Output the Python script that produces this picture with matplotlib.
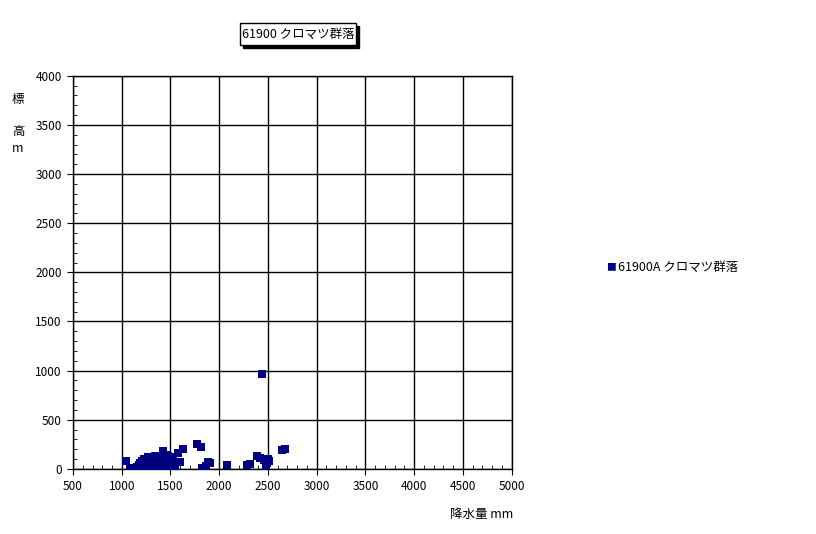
import matplotlib
matplotlib.use("Agg")
import matplotlib.pyplot as plt
from matplotlib.patches import Rectangle
from matplotlib.ticker import MultipleLocator

plt.rcParams['font.family'] = ['Noto Sans CJK JP', 'DejaVu Sans']

# 降水量 (mm) と 標高 (m)
rain = [1040, 1085, 1100, 1160, 1180, 1190, 1200, 1210, 1220, 1230, 1240, 1250,
        1260, 1270, 1280, 1290, 1300, 1310, 1320, 1330, 1340, 1350, 1360, 1370,
        1380, 1390, 1400, 1410, 1420, 1426, 1430, 1440, 1450, 1460, 1470, 1477,
        1490, 1500, 1511, 1520, 1530, 1550, 1580, 1600, 1631,
        1768, 1809, 1820, 1836, 1860, 1887, 1910, 2075,
        2290, 2320, 2386, 2420, 2437, 2460, 2480, 2490, 2500, 2510, 2642, 2673]
elev = [85, 10, 5, 20, 40, 60, 10, 80, 30, 100, 50, 20,
        90, 125, 60, 10, 40, 110, 70, 20, 135, 60, 100, 30,
        80, 10, 50, 120, 70, 186, 20, 90, 140, 40, 100, 132,
        60, 30, 109, 80, 120, 20, 163, 70, 203,
        254, 227, 10, 7, 30, 74, 60, 44,
        40, 50, 132, 110, 967, 90, 20, 60, 100, 80, 193, 204]

series_name = "61900A クロマツ群落"
title = "61900 クロマツ群落"

W, H = 816, 534
fig = plt.figure(figsize=(8.16, 5.34), dpi=100)
ax = fig.add_axes([0.0895, 0.122, 0.5375, 0.736])

ax.scatter(rain, elev, marker='s', s=30, color='#000080', linewidths=0, zorder=3)

ax.set_xlim(500, 5000)
ax.set_ylim(0, 4000)
ax.xaxis.set_major_locator(MultipleLocator(500))
ax.yaxis.set_major_locator(MultipleLocator(500))
ax.xaxis.set_minor_locator(MultipleLocator(100))
ax.yaxis.set_minor_locator(MultipleLocator(100))
ax.grid(True, which='major', color='black', linewidth=1)
ax.tick_params(which='major', length=4, direction='out', labelsize=8.5, pad=4)
ax.tick_params(which='minor', length=3, direction='in')
for s in ax.spines.values():
    s.set_linewidth(1)

# 縦書きの軸ラベル
fig.text(18 / W, 1 - 100 / H, "標", fontsize=9, ha='center', va='center')
fig.text(18 / W, 1 - 131 / H, "高", fontsize=9, ha='center', va='center')
fig.text(18 / W, 1 - 148 / H, "m", fontsize=9, ha='center', va='center')
fig.text(482 / W, 1 - 514 / H, "降水量 mm", fontsize=9, ha='center', va='center')

# タイトル枠（影付き）
bx0, by0, bw, bh = 240, 23, 116, 22
fig.patches.append(Rectangle(((bx0 + 3) / W, 1 - (by0 + bh + 3) / H), bw / W, bh / H,
                             transform=fig.transFigure, facecolor='black',
                             edgecolor='black', zorder=1))
fig.patches.append(Rectangle((bx0 / W, 1 - (by0 + bh) / H), bw / W, bh / H,
                             transform=fig.transFigure, facecolor='white',
                             edgecolor='black', linewidth=1, zorder=2))
fig.text((bx0 + bw / 2) / W, 1 - (by0 + bh / 2) / H, title, fontsize=9,
         ha='center', va='center', zorder=3)

fig.text(611 / W, 1 - 267 / H, "■", fontsize=7, color='#000080', ha='center', va='center')
fig.text(618 / W, 1 - 267 / H, series_name, fontsize=9, ha='left', va='center')

fig.savefig("out.png", dpi=100)
